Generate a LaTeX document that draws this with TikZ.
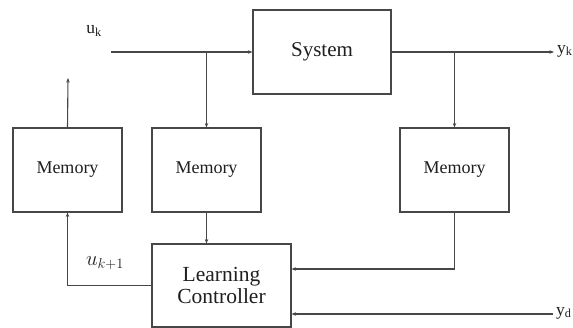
\documentclass[tikz,border=0pt]{standalone}
\usepackage{fontspec}
\setmainfont{Liberation Serif}
\usetikzlibrary{arrows.meta}
\begin{document}
\begin{tikzpicture}[x=1pt,y=-1pt,
  line/.style={draw=black!72, line width=1.1pt},
  arr/.style={line, -{Stealth[length=4.5pt,width=3.5pt]}},
  block/.style={line, rectangle, inner sep=0pt, fill=white, text=black!88},
  memblock/.style={block, minimum width=109pt, minimum height=84pt, font=\fontsize{18}{21}\selectfont},
  sig/.style={text=black!88, font=\fontsize{17.5}{20}\selectfont, inner sep=0pt}]
\useasboundingbox (0,0) rectangle (573,328);

% blocks
\node[block, minimum width=138pt, minimum height=84pt, font=\fontsize{21}{24}\selectfont] (sys) at (322,52) {System};
\node[memblock] (mem1) at (67.5,170) {Memory};
\node[memblock] (mem2) at (206.5,170) {Memory};
\node[memblock] (mem3) at (454.5,170) {Memory};
\node[block, minimum width=139pt, minimum height=83pt, align=center,
      font=\fontsize{21.5}{22.5}\selectfont] (lc) at (221.5,285.5) {Learning\\Controller};

% free ends of the signal lines
\coordinate (uin) at (111,52);
\coordinate (yout) at (554,52);
\coordinate (mup) at (68,78);
\coordinate (ydin) at (553,314);

% signal labels
\node[sig] (uk) at (94,31) {u\textsubscript{k}};
\node[sig, anchor=west] (yk) at (557,51) {y\textsubscript{k}};
\node[sig, anchor=west] (yd) at (556,313) {y\textsubscript{d}};
\node[sig, font=\fontsize{20}{22}\selectfont] (ukp) at (105,263) {$u_{k+1}$};

% connectors
\draw[arr] (uin) -- (sys.west);
\draw[arr] (mem2.north |- sys.west) -- (mem2.north);
\draw[arr] (sys.east) -- (yout);
\draw[arr] (mem3.north |- sys.east) -- (mem3.north);
\draw[arr] (mem1.north) -- (mup);
\draw[arr] (mem2.south) -- (mem2.south |- lc.north);
\draw[arr] (lc.west) -| (mem1.south);
\draw[arr] (mem3.south) |- ([yshift=16.5pt]lc.east);
\draw[arr] (ydin) -- (lc.east |- ydin);
\end{tikzpicture}
\end{document}
